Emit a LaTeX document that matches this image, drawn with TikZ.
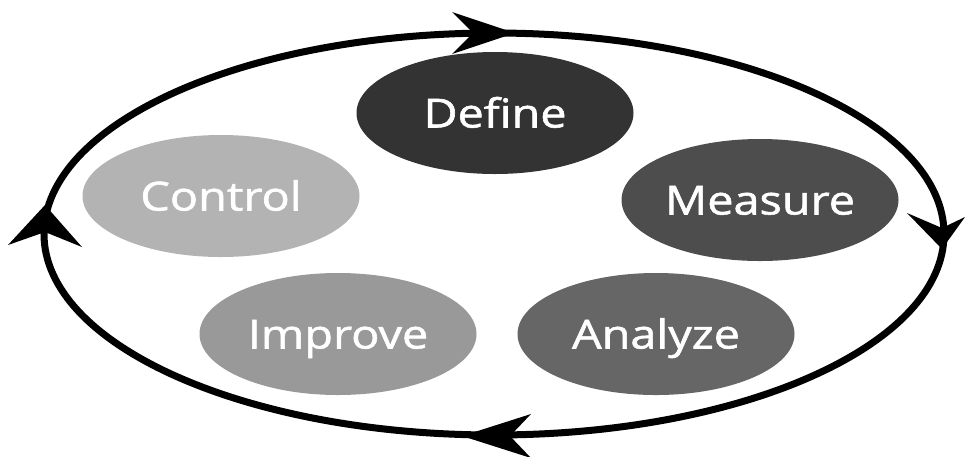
\documentclass[tikz,border=0pt]{standalone}
\usepackage{fontspec}
\setmainfont{Open Sans}
\newfontfamily\semifont{Open Sans}[FakeBold=1.3]
\usetikzlibrary{shapes.geometric}
\definecolor{cdef}{HTML}{333333}
\definecolor{cmea}{HTML}{4D4D4D}
\definecolor{cana}{HTML}{666666}
\definecolor{cimp}{HTML}{999999}
\definecolor{ccon}{HTML}{B3B3B3}
\tikzset{
  phase/.style={ellipse, inner sep=0pt, minimum width=277pt, minimum height=122pt,
    text=white, font=\semifont\fontsize{40}{40}\selectfont, text height=29pt, text depth=0pt},
  cycle/.style={line width=7pt, black},
  head/.style={fill=black}
}
\newcommand{\wide}[1]{\scalebox{1.17}[1]{#1}}
\begin{document}
\begin{tikzpicture}[x=1pt,y=-1pt]
\useasboundingbox (0,0) rectangle (965,456);
% main cycle
\draw[cycle] (494,234) ellipse [x radius=450, y radius=201];
% phases
\node[phase, fill=cdef] (define)  at (495,113) {\wide{Define}};
\node[phase, fill=cmea] (measure) at (760,200) {\wide{Measure}};
\node[phase, fill=cana] (analyze) at (656,334) {\wide{Analyze}};
\node[phase, fill=cimp] (improve) at (338,334) {\wide{Improve}};
\node[phase, fill=ccon] (control) at (221,196) {\wide{Control}};
% arrowheads on the cycle
\coordinate (ta) at (515,33);
\coordinate (ra) at (942,249);
\coordinate (ba) at (462,436);
\coordinate (la) at (45,205);
\fill[head] (ta) -- (452,12) -- (473,33) -- (452,54) -- cycle;
\fill[head] (ra) -- (907,213) -- (942,228) -- (965,217) -- cycle;
\fill[head] (ba) -- (531,414) -- (510,436) -- (531,458) -- cycle;
\fill[head] (la) -- (8,245) -- (45,232) -- (82,247) -- cycle;
\end{tikzpicture}
\end{document}
